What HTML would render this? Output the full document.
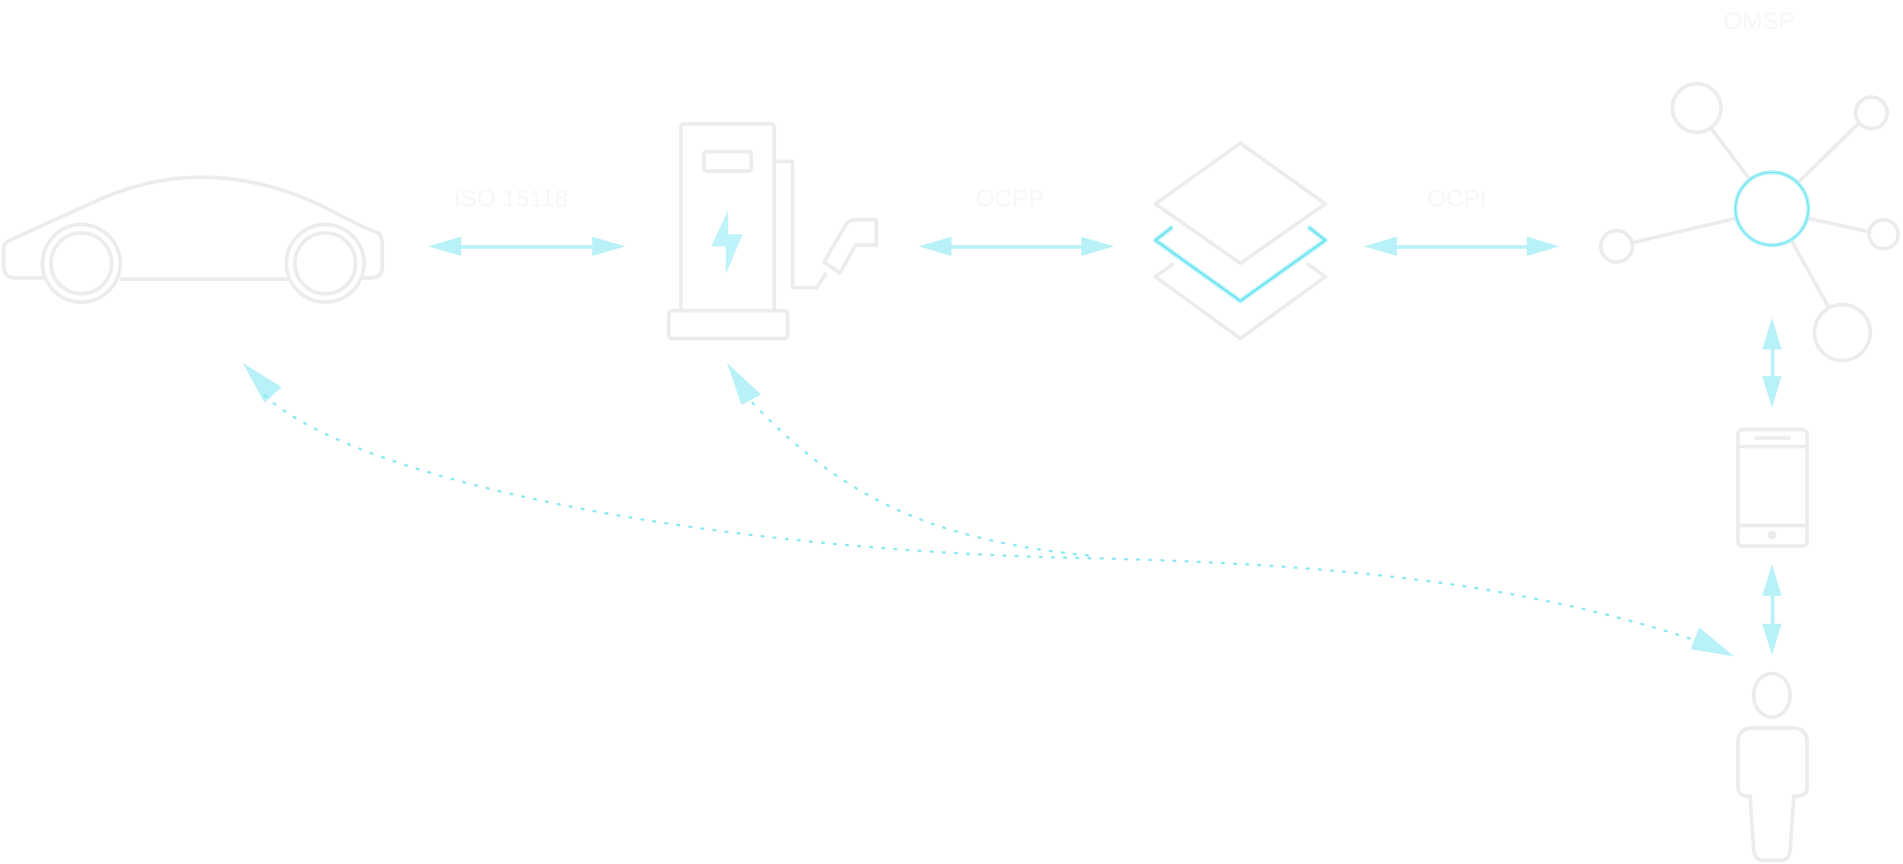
<!DOCTYPE html>
<html><head><meta charset="utf-8"><style>
html,body{margin:0;padding:0;background:#fff;width:1903px;height:864px;overflow:hidden}
svg{display:block}
text{font-family:"Liberation Sans",sans-serif;fill:#f7f7f7}
</style></head><body>
<svg width="1903" height="864" viewBox="0 0 1568 712" preserveAspectRatio="none" xmlns="http://www.w3.org/2000/svg">
<g fill="none" stroke="#ececec" stroke-width="3" stroke-linejoin="round" stroke-linecap="round">
<!-- car -->
<path d="M36,229 H12 Q3,229 3,218 V205 Q3,200 8,198 L85,163 Q175,125 270,172 Q300,188 312,192 Q315,196 315,202 V220 Q315,229 305,229 H300"/>
<path d="M100,230 H236"/>
<circle cx="67" cy="217" r="32"/><circle cx="67" cy="217" r="25"/>
<circle cx="268" cy="217" r="32"/><circle cx="268" cy="217" r="25"/>
<!-- charger -->
<rect x="561" y="102" width="77" height="154" rx="3"/>
<rect x="580" y="125" width="39" height="16" rx="2"/>
<rect x="551" y="256" width="98" height="23" rx="3"/>
<path d="M638,133 H653 V237 H673 L680,226"/>
<path d="M679,216 L697,185 Q700,181 705,181 H722 V202 H705 L692,225 Z"/>
<!-- layers -->
<path d="M952,228 L1022,279 L1092,228 L1078,218"/>
<path d="M966,218 L952,228"/>
<path d="M1022,118 L1092,168 L1022,217 L952,168 Z" fill="#fff"/>
<!-- network lines -->
<line x1="1410" y1="106" x2="1442" y2="148"/>
<line x1="1530" y1="103" x2="1482" y2="150"/>
<line x1="1540" y1="191" x2="1490" y2="180"/>
<line x1="1345" y1="200" x2="1430" y2="180"/>
<line x1="1476" y1="198" x2="1506" y2="252"/>
<circle cx="1398" cy="89" r="20"/>
<circle cx="1542" cy="93" r="13"/>
<circle cx="1552" cy="193" r="12"/>
<circle cx="1332" cy="203" r="13"/>
<circle cx="1518" cy="274" r="23"/>
<!-- phone -->
<rect x="1432" y="354" width="57" height="96" rx="4"/>
<line x1="1432" y1="368" x2="1489" y2="368"/>
<line x1="1432" y1="433" x2="1489" y2="433"/>
<line x1="1447" y1="361" x2="1474" y2="361"/>
<circle cx="1460" cy="441" r="2" fill="#ececec"/>
<!-- person -->
<ellipse cx="1460" cy="573" rx="15" ry="18"/>
<path d="M1444,600 H1477 Q1489,600 1489,612 V648 Q1489,656 1481,656 H1478 L1475,701 Q1474,709 1467,709 H1453 Q1446,709 1445,701 L1442,656 H1440 Q1432,656 1432,648 V612 Q1432,600 1444,600 Z"/>
</g>
<!-- middle layer cyan -->
<path d="M966,187 L952,198 L1022,248 L1092,198 L1078,187" fill="none" stroke="#b8f2f8" stroke-width="4" stroke-linejoin="round"/>
<path d="M966,187 L952,198 L1022,248 L1092,198 L1078,187" fill="none" stroke="#4ee0f0" stroke-width="1" stroke-linejoin="round"/>
<circle cx="1460" cy="172" r="30" fill="none" stroke="#b8f2f8" stroke-width="3.5"/>
<circle cx="1460" cy="172" r="30" fill="none" stroke="#5fe3f2" stroke-width="0.8"/>
<!-- bolt -->
<polygon points="600,173 600,193 612,193 598,226 598,203 586,203" fill="#bdf3f9"/>
<!-- arrows -->
<g fill="#b8f2f8" stroke="none">
<rect x="378" y="202" width="112" height="3"/>
<polygon points="353,203 380,195 380,211"/><polygon points="515,203 488,195 488,211"/>
<rect x="782" y="202" width="112" height="3"/>
<polygon points="757,203 784,195 784,211"/><polygon points="918,203 891,195 891,211"/>
<rect x="1149" y="202" width="112" height="3"/>
<polygon points="1124,203 1151,195 1151,211"/><polygon points="1285,203 1258,195 1258,211"/>
<rect x="1459" y="285" width="3" height="30"/>
<polygon points="1460,262 1452,288 1468,288"/><polygon points="1460,336 1452,310 1468,310"/>
<rect x="1459" y="489" width="3" height="30"/>
<polygon points="1460,465 1452,491 1468,491"/><polygon points="1460,540 1452,514 1468,514"/>
<polygon points="200,299 218,332 232,319"/>
<polygon points="599,299 611,334 627,325"/>
<polygon points="1429,541 1400,517 1393,535"/>
</g>
<g fill="none" stroke="#8de9f3" stroke-width="2" stroke-dasharray="1.5 8.5" stroke-linecap="round">
<path d="M218,326 C300,400 600,455 900,460 C1100,465 1250,480 1395,527"/>
<path d="M620,332 C690,405 760,445 900,458"/>
</g>
<text x="374" y="170" font-size="20">ISO 15118</text>
<text x="804" y="170" font-size="20">OCPP</text>
<text x="1176" y="170" font-size="20">OCPI</text>
<text x="1420" y="24" font-size="20">OMSP</text>
</svg>
</body></html>
